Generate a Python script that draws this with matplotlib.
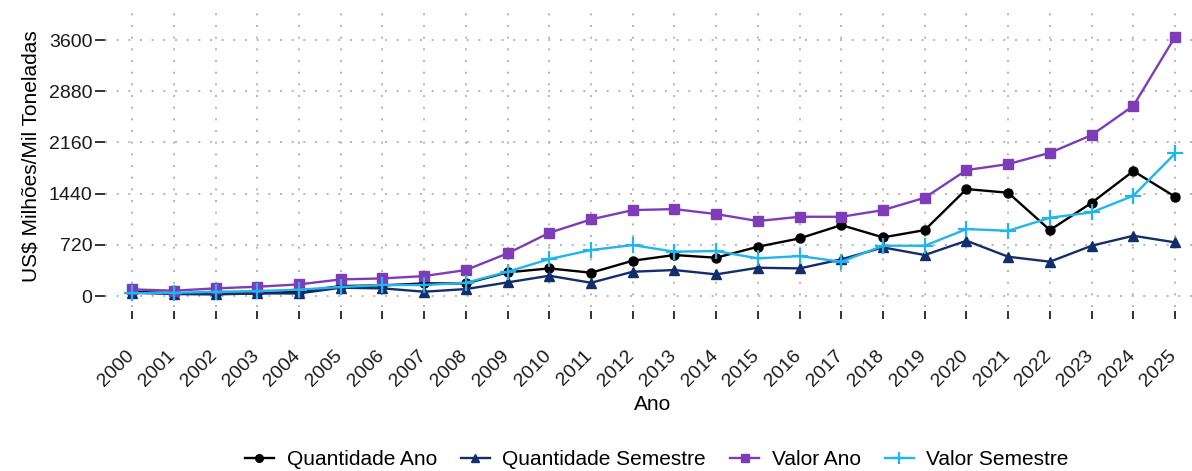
import matplotlib
matplotlib.use("Agg")
import matplotlib.pyplot as plt
from matplotlib.transforms import ScaledTranslation

plt.rcParams['font.family'] = ['Liberation Sans', 'DejaVu Sans']

anos = list(range(2000, 2026))
quantidade_ano = [61, 40, 30, 37, 61, 141, 150, 178, 178, 333, 389, 328, 497, 577, 539, 694,
                  811, 998, 825, 928, 1505, 1453, 928, 1312, 1758, 1397]
quantidade_semestre = [47, 28, 23, 37, 37, 117, 108, 61, 98, 192, 286, 187, 342, 366, 305, 398,
                       389, 516, 684, 577, 778, 553, 483, 708, 848, 755]
valor_ano = [94, 75, 108, 131, 164, 234, 248, 281, 366, 600, 890, 1078, 1209, 1223, 1153, 1055,
             1115, 1115, 1209, 1383, 1772, 1856, 2015, 2264, 2676, 3646]
valor_semestre = [42, 45, 60, 70, 90, 127, 155, 155, 187, 342, 520, 647, 717, 624, 633, 530,
                  562, 483, 708, 708, 942, 918, 1101, 1177, 1411, 2006]
yticks = [0, 720, 1440, 2160, 2880, 3600]

fig = plt.figure(figsize=(11.92, 4.71), dpi=100)
ax = fig.add_axes([0.0881, 0.3488, 0.9187, 0.640])

lw = 1.7
ax.plot(anos, quantidade_ano, color='#000000', lw=lw, marker='o', ms=6.5, label='Quantidade Ano', zorder=3)
ax.plot(anos, quantidade_semestre, color='#142d6b', lw=lw, marker='^', ms=7.5, label='Quantidade Semestre', zorder=3)
ax.plot(anos, valor_ano, color='#7e3cb8', lw=lw, marker='s', ms=6.5, label='Valor Ano', zorder=3)
ax.plot(anos, valor_semestre, color='#22b5ec', lw=lw, marker='+', ms=11, mew=1.6, label='Valor Semestre', zorder=3)

for s in ax.spines.values():
    s.set_visible(False)
ax.spines['bottom'].set_position(('outward', 3))
ax.grid(True, color='#b5b5b5', lw=1.4, linestyle=(0, (1, 5)))
ax.set_axisbelow(True)

ax.tick_params(axis='x', length=6, width=1.4, color='#333333', pad=20, labelsize=14, labelcolor='#1a1a1a')
ax.tick_params(axis='y', length=7, width=1.4, color='#333333', pad=2, labelsize=14, labelcolor='#1a1a1a')

ax.set_xlim(1999.35, 2025.6)
ax.set_ylim(-150, 4090)
ax.set_xticks(anos)
ax.set_xticklabels([str(a) for a in anos], rotation=45, ha='right', va='top',
                   rotation_mode='default')
ax.set_yticks(yticks)
ax.set_yticklabels([str(v) for v in yticks])

off = ScaledTranslation(5 / 100, 0, fig.dpi_scale_trans)
for lab in ax.get_xticklabels():
    lab.set_transform(lab.get_transform() + off)

ax.set_xlabel('Ano', fontsize=15, labelpad=4)
ax.set_ylabel('US$ Milhões/Mil Toneladas', fontsize=15, labelpad=6)

fig.legend(loc='center', bbox_to_anchor=(0.551, 0.024), ncol=4, frameon=False, borderaxespad=0,
           fontsize=15, handlelength=1.4, columnspacing=1.15, handletextpad=0.6, markerscale=0.85)

fig.savefig('out.png', dpi=100)
